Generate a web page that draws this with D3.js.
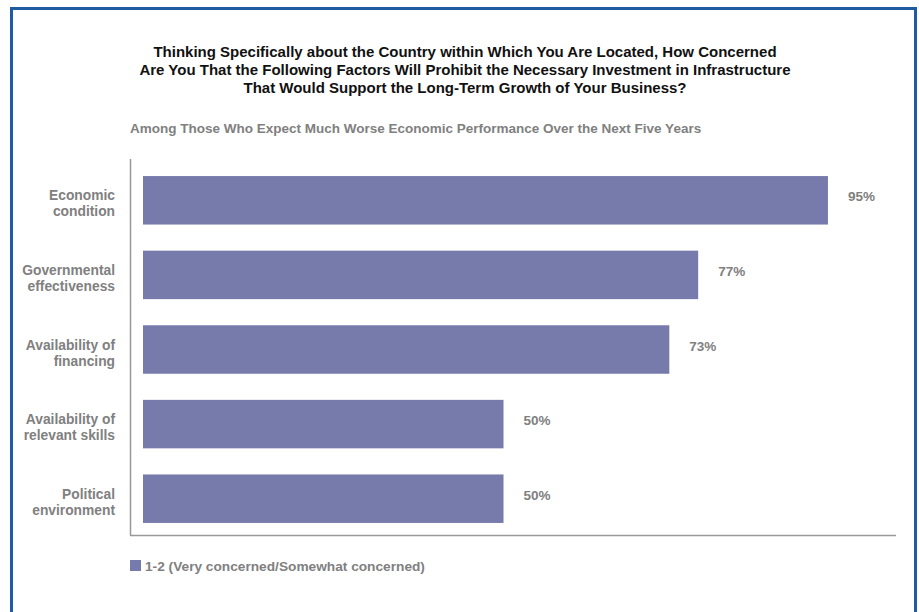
<!DOCTYPE html>
<html>
<head>
<meta charset="utf-8">
<script src="https://cdn.jsdelivr.net/npm/d3@7"></script>
<style>
  html, body { margin: 0; padding: 0; background: #fff; }
  svg { display: block; }
  text { font-family: "Liberation Sans", Arial, Helvetica, sans-serif; font-weight: bold; }
</style>
</head>
<body>
<svg id="chart" width="919" height="612"></svg>
<script>
const titleLines = [
  "Thinking Specifically about the Country within Which You Are Located, How Concerned",
  "Are You That the Following Factors Will Prohibit the Necessary Investment in Infrastructure",
  "That Would Support the Long-Term Growth of Your Business?"
];
const subtitle = "Among Those Who Expect Much Worse Economic Performance Over the Next Five Years";
const categories = [
  ["Economic", "condition"],
  ["Governmental", "effectiveness"],
  ["Availability of", "financing"],
  ["Availability of", "relevant skills"],
  ["Political", "environment"]
];
const values = [95, 77, 73, 50, 50];
const seriesName = "1-2 (Very concerned/Somewhat concerned)";

const svg = d3.select("#chart");
const barColor = "#767bac";
const grey = "#808080";

// frame
svg.append("rect").attr("x", 11.5).attr("y", 8.5).attr("width", 904).attr("height", 640)
  .attr("fill", "none").attr("stroke", "#1f5ba3").attr("stroke-width", 3);

// title
svg.append("g").selectAll("text").data(titleLines).join("text")
  .attr("x", 465).attr("y", (d, i) => 57 + i * 18)
  .attr("text-anchor", "middle").attr("font-size", 15).attr("fill", "#111")
  .text(d => d);

svg.append("text").attr("x", 130).attr("y", 132.5).attr("font-size", 13.5).attr("fill", grey)
  .text(subtitle);

const x = d3.scaleLinear().domain([0, 100]).range([143, 864]);
const y = d3.scaleBand().domain(d3.range(values.length)).range([163, 536]).paddingInner(0.35).paddingOuter(0.175);

// axes lines
svg.append("line").attr("x1", 130.5).attr("x2", 130.5).attr("y1", 159).attr("y2", 535.5)
  .attr("stroke", "#999").attr("stroke-width", 1.5);
svg.append("line").attr("x1", 130).attr("x2", 896).attr("y1", 535.5).attr("y2", 535.5)
  .attr("stroke", "#999").attr("stroke-width", 1.5);

// bars
svg.append("g").selectAll("rect").data(values).join("rect")
  .attr("x", x(0)).attr("y", (d, i) => y(i))
  .attr("width", d => x(d) - x(0)).attr("height", y.bandwidth())
  .attr("fill", barColor);

// value labels
svg.append("g").selectAll("text").data(values).join("text")
  .attr("x", d => x(d) + 20).attr("y", (d, i) => y(i) + y.bandwidth() / 2 + 1)
  .attr("font-size", 13.5).attr("fill", grey)
  .text(d => d + "%");

// category labels
const cat = svg.append("g").selectAll("text").data(categories).join("text")
  .attr("text-anchor", "end").attr("font-size", 13.8).attr("fill", grey)
  .attr("x", 115).attr("y", (d, i) => y(i) + y.bandwidth() / 2);
cat.selectAll("tspan").data(d => d).join("tspan")
  .attr("x", 115).attr("dy", (d, i) => i === 0 ? 0 : 16).text(d => d);

// legend
svg.append("rect").attr("x", 130).attr("y", 560).attr("width", 11).attr("height", 11).attr("fill", barColor);
svg.append("text").attr("x", 145).attr("y", 570.5).attr("font-size", 13.7).attr("fill", grey).text(seriesName);
</script>
</body>
</html>
